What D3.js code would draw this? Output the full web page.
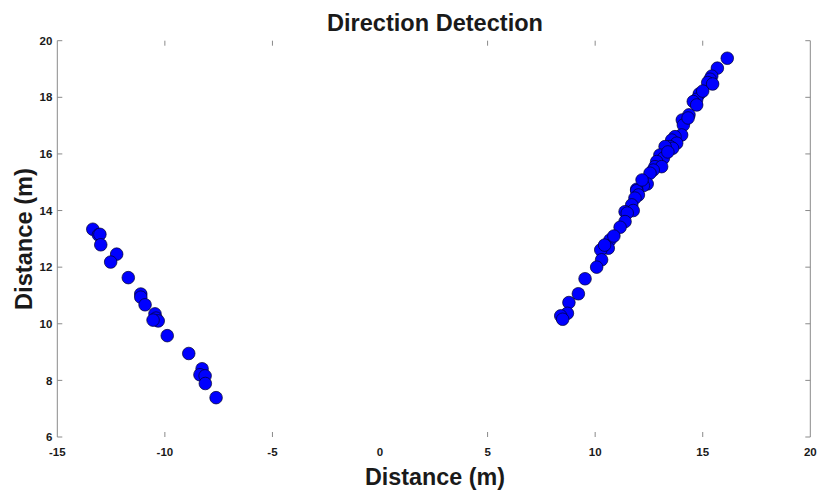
<!DOCTYPE html>
<html><head><meta charset="utf-8">
<script src="https://cdn.jsdelivr.net/npm/d3@7"></script>
<style>body{margin:0;background:#fff}svg{display:block}text{font-family:"Liberation Sans",Arial,sans-serif;font-weight:bold;fill:#1a1a1a}</style>
</head><body><svg id="c" width="822" height="497"></svg>
<script>
const title = "Direction Detection";
const xLabel = "Distance (m)";
const yLabel = "Distance (m)";
const xTicks = [-15, -10, -5, 0, 5, 10, 15, 20];
const yTicks = [6, 8, 10, 12, 14, 16, 18, 20];
const xTickMarks = [-10, -5, 5, 10, 15];
const leftX = [-13.35,-13.09,-13.02,-12.98,-12.24,-12.52,-11.70,-11.12,-11.12,-10.92,-10.46,-10.41,-10.31,-10.55,-9.89,-8.89,-8.27,-8.37,-8.13,-8.12,-7.62];
const leftY = [13.34,13.14,13.16,12.79,12.46,12.18,11.63,11.05,10.94,10.67,10.35,10.20,10.10,10.13,9.58,8.95,8.41,8.20,8.16,7.89,7.39];
const rightX = [16.14,15.68,15.42,15.34,15.23,15.46,14.84,14.72,14.56,14.72,14.36,14.05,14.10,14.02,13.71,13.56,13.79,13.48,13.60,13.25,13.01,13.17,12.86,12.78,13.09,12.70,12.55,12.42,12.24,11.93,11.93,12.01,11.85,11.70,11.77,11.39,11.49,11.39,11.16,10.69,10.61,10.26,10.30,10.07,9.53,9.22,8.78,8.71,8.40,8.49,10.44,10.87,12.18,13.38,14.32,15.00];
const rightY = [19.38,19.03,18.75,18.64,18.52,18.47,18.12,17.93,17.85,17.73,17.38,17.20,17.02,16.67,16.61,16.49,16.38,16.26,16.20,16.26,15.96,15.85,15.73,15.55,15.55,15.43,15.32,14.94,14.88,14.75,14.70,14.55,14.44,14.20,14.00,13.96,13.91,13.61,13.41,12.96,12.67,12.61,12.26,12.00,11.59,11.06,10.75,10.37,10.28,10.16,12.78,13.10,15.08,16.07,17.27,18.22];

const svg = d3.select("#c");
const L = 57.3, R = 810.3, T = 40.7, B = 437;
const x = d3.scaleLinear().domain([-15, 20]).range([L, R]);
const y = d3.scaleLinear().domain([6, 20]).range([B, T]);
const axisCol = "#8a8a8a";

svg.append("line").attr("x1", L).attr("x2", L).attr("y1", T).attr("y2", B).attr("stroke", axisCol);
svg.append("line").attr("x1", R).attr("x2", R).attr("y1", T).attr("y2", B).attr("stroke", axisCol);

yTicks.forEach(v => {
  svg.append("line").attr("x1", L).attr("x2", L + 5).attr("y1", y(v)).attr("y2", y(v)).attr("stroke", axisCol);
  svg.append("line").attr("x1", R - 5).attr("x2", R).attr("y1", y(v)).attr("y2", y(v)).attr("stroke", axisCol);
  svg.append("text").attr("x", L - 5).attr("y", y(v)).attr("dy", "0.36em").attr("text-anchor", "end")
    .attr("font-size", 11.5).text(v);
});
xTickMarks.forEach(v => {
  svg.append("line").attr("x1", x(v)).attr("x2", x(v)).attr("y1", T).attr("y2", T + 5).attr("stroke", axisCol);
  svg.append("line").attr("x1", x(v)).attr("x2", x(v)).attr("y1", B - 5).attr("y2", B).attr("stroke", axisCol);
});
xTicks.forEach(v => {
  svg.append("text").attr("x", x(v)).attr("y", 456).attr("text-anchor", "middle")
    .attr("font-size", 11.5).text(v);
});

const pts = leftX.map((v, i) => [v, leftY[i]]).concat(rightX.map((v, i) => [v, rightY[i]]));
svg.append("g").selectAll("circle").data(pts).join("circle")
  .attr("cx", d => x(d[0])).attr("cy", d => y(d[1])).attr("r", 6.3)
  .attr("fill", "#0000ff").attr("stroke", "#00002a").attr("stroke-width", 0.7);

svg.append("text").attr("x", 435).attr("y", 31).attr("text-anchor", "middle")
  .attr("font-size", 24).attr("textLength", 216).attr("lengthAdjust", "spacingAndGlyphs").text(title);
svg.append("text").attr("x", 435).attr("y", 485).attr("text-anchor", "middle")
  .attr("font-size", 23.5).attr("textLength", 140).attr("lengthAdjust", "spacingAndGlyphs").text(xLabel);
svg.append("text").attr("transform", "translate(32,239) rotate(-90)").attr("text-anchor", "middle")
  .attr("font-size", 23.5).attr("textLength", 142).attr("lengthAdjust", "spacingAndGlyphs").text(yLabel);
</script></body></html>
